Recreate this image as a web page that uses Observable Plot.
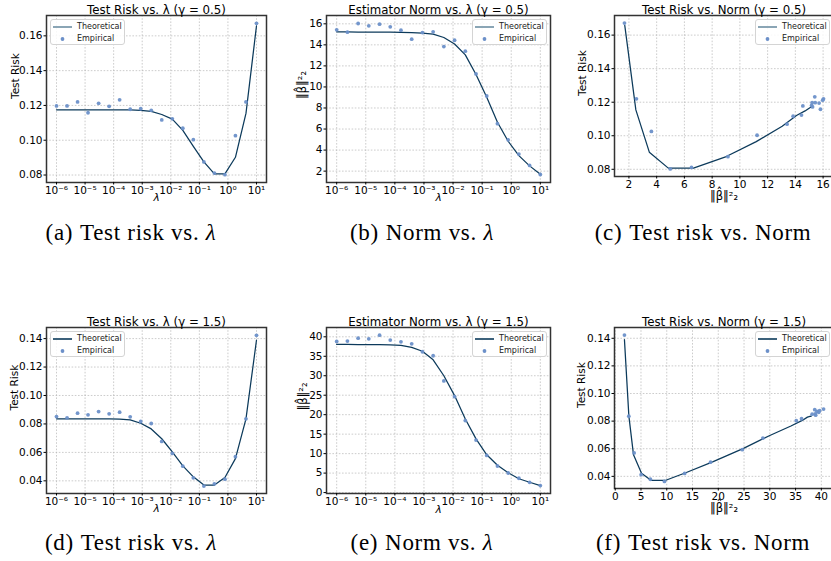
<!DOCTYPE html>
<html><head><meta charset="utf-8">
<script src="https://cdn.jsdelivr.net/npm/d3@7"></script>
<script src="https://cdn.jsdelivr.net/npm/@observablehq/plot@0.6"></script>
<style>
body{margin:0;background:#fff;}
#fig{position:relative;width:831px;height:561px;overflow:hidden;background:#fff;font-family:"DejaVu Sans";}
.panel{position:absolute;}
.legend{position:absolute;border:1px solid #d4d4d4;border-radius:3px;background:rgba(255,255,255,0.85);font-family:"DejaVu Sans";font-size:8px;color:#222;box-sizing:border-box;width:75px;height:26px;}
.legend .lab{position:absolute;left:26px;line-height:10px;white-space:nowrap;}
.legend svg{position:absolute;left:0;top:0;}
.cap{position:absolute;font-family:"Liberation Serif","Times New Roman",serif;font-size:23px;letter-spacing:0.7px;line-height:23px;white-space:nowrap;transform:translateX(-50%);color:#000;}
</style></head><body><div id="fig"></div><script>
// ---- data ----
const lambdas = [1e-6, 2.34e-6, 5.46e-6, 1.27e-5, 2.98e-5, 6.95e-5, 1.62e-4, 3.79e-4, 8.86e-4, 2.07e-3, 4.83e-3, 1.13e-2, 2.64e-2, 6.16e-2, 0.144, 0.336, 0.785, 1.83, 4.28, 10];

const riskTheoG05 = [0.1175, 0.1175, 0.1175, 0.1175, 0.1175, 0.1175, 0.1175, 0.1174, 0.1172, 0.1166, 0.1148, 0.1121, 0.1057, 0.0965, 0.0876, 0.0807, 0.0807, 0.0902, 0.1154, 0.1658];
const riskEmpG05  = [0.1197, 0.1197, 0.1220, 0.1158, 0.1212, 0.1195, 0.1232, 0.1178, 0.1181, 0.1172, 0.1117, 0.1123, 0.1069, 0.1003, 0.0875, 0.0811, 0.0802, 0.1026, 0.1220, 0.1672];
const normTheoG05 = [15.24, 15.23, 15.22, 15.21, 15.20, 15.20, 15.19, 15.17, 15.12, 15.02, 14.70, 14.08, 13.05, 11.18, 9.02, 6.65, 4.84, 3.47, 2.50, 1.70];
const normEmpG05  = [15.43, 15.21, 16.03, 15.81, 15.97, 15.71, 15.40, 14.54, 15.17, 15.24, 13.84, 14.44, 13.40, 11.24, 9.14, 6.51, 4.98, 3.62, 2.54, 1.68];

const riskTheoG15 = [0.0836, 0.0836, 0.0836, 0.0836, 0.0836, 0.0835, 0.0834, 0.0829, 0.0805, 0.0765, 0.0696, 0.0603, 0.0505, 0.0428, 0.0370, 0.0370, 0.0423, 0.0556, 0.0836, 0.1390];
const riskEmpG15  = [0.0852, 0.0843, 0.0876, 0.0864, 0.0887, 0.0871, 0.0883, 0.0850, 0.0817, 0.0803, 0.0677, 0.0593, 0.0503, 0.0421, 0.0363, 0.0379, 0.0412, 0.0570, 0.0836, 0.1423];
const normTheoG15 = [38.04, 38.03, 38.02, 38.00, 37.98, 37.93, 37.80, 37.30, 36.30, 34.10, 30.00, 24.90, 18.90, 13.80, 9.70, 7.00, 5.10, 3.55, 2.65, 1.79];
const normEmpG15  = [38.81, 38.90, 39.66, 39.49, 40.43, 39.15, 38.72, 38.21, 36.16, 35.14, 28.66, 24.66, 18.50, 13.47, 9.55, 6.82, 5.03, 3.67, 2.64, 1.79];

const lambdaTicks = [1e-6, 1e-5, 1e-4, 1e-3, 1e-2, 1e-1, 1, 10];
const riskTicksG05 = [0.08, 0.10, 0.12, 0.14, 0.16];
const normTicksG05 = [2, 4, 6, 8, 10, 12, 14, 16];
const riskTicksG15 = [0.04, 0.06, 0.08, 0.10, 0.12, 0.14];
const normTicksG15 = [0, 5, 10, 15, 20, 25, 30, 35, 40];

const titles = ["Test Risk vs. λ (γ = 0.5)", "Estimator Norm vs. λ (γ = 0.5)", "Test Risk vs. Norm (γ = 0.5)",
                "Test Risk vs. λ (γ = 1.5)", "Estimator Norm vs. λ (γ = 1.5)", "Test Risk vs. Norm (γ = 1.5)"];
const captionTags = ["(a)", "(b)", "(c)", "(d)", "(e)", "(f)"];
const captionTexts = ["Test risk vs. ", "Norm vs. ", "Test risk vs. Norm", "Test risk vs. ", "Norm vs. ", "Test risk vs. Norm"];
const captionLambda = [true, true, false, true, true, false];
const legendLabels = ["Theoretical", "Empirical"];
const labelRisk = "Test Risk";
const labelNorm = "‖β̂‖²₂";
const labelLambda = "λ";

// ---- styling ----
const LINE = "#0c3a5b";
const DOT = "#6c90c9";
const GRID = {stroke: "#b4b4b4", strokeOpacity: 0.85, strokeDasharray: "1.6,1.6", strokeWidth: 0.8};

const sup = {"-": "⁻", "0": "⁰", "1": "¹", "2": "²", "3": "³", "4": "⁴", "5": "⁵", "6": "⁶", "7": "⁷", "8": "⁸", "9": "⁹"};
const powFmt = d => "10" + String(Math.round(Math.log10(d))).split("").map(c => sup[c]).join("");
const f2 = d3.format(".2f");
const f0 = d3.format("d");

function rows(rt, re, nt, ne) {
  return lambdas.map((l, i) => ({lambda: l, riskTheo: rt[i], riskEmp: re[i], normTheo: nt[i], normEmp: ne[i]}));
}
const dataG05 = rows(riskTheoG05, riskEmpG05, normTheoG05, normEmpG05);
const dataG15 = rows(riskTheoG15, riskEmpG15, normTheoG15, normEmpG15);

const fig = document.getElementById("fig");

function panel(c) {
  const [L, T, W, H] = c.box;
  const [fl, fr, ft, fb] = c.frame;
  const isLam = c.xLabel === labelLambda;
  const p = Plot.plot({
    width: W, height: H,
    marginLeft: fl - L, marginRight: L + W - fr, marginTop: ft - T, marginBottom: T + H - fb,
    style: {fontFamily: "DejaVu Sans", fontSize: "10.5px", color: "#000", background: "transparent", overflow: "visible", maxWidth: "none"},
    x: {type: c.xType, domain: c.xDomain},
    y: {type: "linear", domain: c.yDomain},
    marks: [
      Plot.gridX(c.xTicks, GRID),
      Plot.gridY(c.yTicks, GRID),
      Plot.line(c.data, {x: c.xt, y: c.yt, stroke: LINE, strokeWidth: 1.25}),
      Plot.dot(c.data, {x: c.xe, y: c.ye, r: 1.9, fill: DOT, fillOpacity: 0.95, stroke: "none"}),
      Plot.frame({stroke: "#333", strokeWidth: 1.5}),
      Plot.axisX(c.xTicks, {tickSize: 2.5, tickPadding: 1.5, tickFormat: c.xFormat, label: null}),
      Plot.axisY(c.yTicks, {tickSize: 2.5, tickPadding: 1.5, tickFormat: c.yFormat, label: null}),
      Plot.text([c.title], {text: d => d, frameAnchor: "top", dy: -9.5, fontSize: 11.8}),
      Plot.text([c.xLabel], {text: d => d, frameAnchor: "bottom", dy: c.xLabelDy, fontSize: isLam ? 10.5 : 11.5, fontStyle: isLam ? "italic" : "normal"}),
      Plot.text([c.yLabel], {text: d => d, frameAnchor: "left", dx: c.yLabelDx, rotate: -90, fontSize: c.yLabel === labelRisk ? 10.5 : 11.5})
    ]
  });
  const div = document.createElement("div");
  div.className = "panel";
  div.style.left = L + "px"; div.style.top = T + "px"; div.style.width = W + "px"; div.style.height = H + "px";
  div.appendChild(p);
  fig.appendChild(div);
  // legend
  const lg = document.createElement("div");
  lg.className = "legend";
  lg.style.left = c.legend[0] + "px"; lg.style.top = c.legend[1] + "px";
  lg.innerHTML =
    `<svg width="26" height="26"><line x1="2" x2="21" y1="7" y2="7" stroke="${c.legendLine}" stroke-width="1.6"/>` +
    `<circle cx="11.5" cy="19" r="1.9" fill="${DOT}"/></svg>` +
    `<div class="lab" style="top:2px">${legendLabels[0]}</div><div class="lab" style="top:14px">${legendLabels[1]}</div>`;
  fig.appendChild(lg);
}

const lamDomain = [Math.pow(10, -6.35), Math.pow(10, 1.35)];

panel({box: [0, 0, 275, 215], frame: [46, 266, 15, 182], data: dataG05, xType: "log", xDomain: lamDomain, yDomain: [0.0757, 0.1717],
  xt: "lambda", yt: "riskTheo", xe: "lambda", ye: "riskEmp", xTicks: lambdaTicks, yTicks: riskTicksG05, xFormat: powFmt, yFormat: f2,
  title: titles[0], xLabel: labelLambda, yLabel: labelRisk, xLabelDy: 18, yLabelDx: -31, legend: [50, 19], legendLine: "#6d8ea3"});

panel({box: [275, 0, 280, 215], frame: [326, 550, 15, 182], data: dataG05, xType: "log", xDomain: lamDomain, yDomain: [0.92, 16.79],
  xt: "lambda", yt: "normTheo", xe: "lambda", ye: "normEmp", xTicks: lambdaTicks, yTicks: normTicksG05, xFormat: powFmt, yFormat: f0,
  title: titles[1], xLabel: labelLambda, yLabel: labelNorm, xLabelDy: 18, yLabelDx: -24, legend: [472, 19], legendLine: "#6d8ea3"});

panel({box: [555, 0, 290, 215], frame: [614, 833, 15, 176], data: dataG05, xType: "linear", xDomain: [0.96, 16.75], yDomain: [0.0757, 0.1717],
  xt: "normTheo", yt: "riskTheo", xe: "normEmp", ye: "riskEmp", xTicks: normTicksG05, yTicks: riskTicksG05, xFormat: f0, yFormat: f2,
  title: titles[2], xLabel: labelNorm, yLabel: labelRisk, xLabelDy: 23, yLabelDx: -32, legend: [755, 19], legendLine: "#6d8ea3"});

panel({box: [0, 305, 275, 215], frame: [46, 266, 327, 493], data: dataG15, xType: "log", xDomain: lamDomain, yDomain: [0.0311, 0.1478],
  xt: "lambda", yt: "riskTheo", xe: "lambda", ye: "riskEmp", xTicks: lambdaTicks, yTicks: riskTicksG15, xFormat: powFmt, yFormat: f2,
  title: titles[3], xLabel: labelLambda, yLabel: labelRisk, xLabelDy: 18.5, yLabelDx: -32, legend: [50, 331], legendLine: LINE});

panel({box: [275, 305, 280, 215], frame: [326, 550, 327, 493], data: dataG15, xType: "log", xDomain: lamDomain, yDomain: [-0.24, 42.39],
  xt: "lambda", yt: "normTheo", xe: "lambda", ye: "normEmp", xTicks: lambdaTicks, yTicks: normTicksG15, xFormat: powFmt, yFormat: f0,
  title: titles[4], xLabel: labelLambda, yLabel: labelNorm, xLabelDy: 19, yLabelDx: -23, legend: [472, 331], legendLine: LINE});

panel({box: [555, 305, 290, 215], frame: [614, 833, 327, 488], data: dataG15, xType: "linear", xDomain: [-0.14, 42.36], yDomain: [0.0312, 0.1478],
  xt: "normTheo", yt: "riskTheo", xe: "normEmp", ye: "riskEmp", xTicks: normTicksG15, yTicks: riskTicksG15, xFormat: f0, yFormat: f2,
  title: titles[5], xLabel: labelNorm, yLabel: labelRisk, xLabelDy: 23, yLabelDx: -32.5, legend: [755, 331], legendLine: LINE});

// captions
const capPos = [[131, 221], [422, 221], [703, 221], [131, 531], [422, 531], [703, 531]];
captionTags.forEach((tag, i) => {
  const d = document.createElement("div");
  d.className = "cap";
  d.style.left = capPos[i][0] + "px"; d.style.top = capPos[i][1] + "px";
  d.innerHTML = `<span style="margin-right:0.3em">${tag}</span>${captionTexts[i]}${captionLambda[i] ? "<i>λ</i>" : ""}`;
  fig.appendChild(d);
});
</script></body></html>
